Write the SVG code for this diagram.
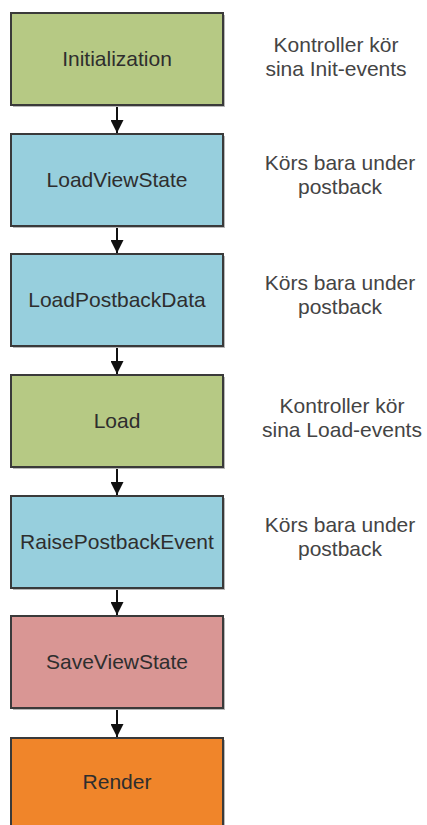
<svg xmlns="http://www.w3.org/2000/svg" width="427" height="825" viewBox="0 0 427 825">
  <style>
    .box { stroke: #3a3a3a; stroke-width: 2; }
    .shadow { fill: #b8b8b8; }
    .init { fill: #b6c984; }
    .post { fill: #97cfdd; }
    .save { fill: #d99694; }
    .render { fill: #f0852a; }
    .label { font-family: "Liberation Sans", Arial, sans-serif; font-size: 21px; fill: #2e2e2e; text-anchor: middle; }
    .note { font-family: "Liberation Sans", Arial, sans-serif; font-size: 21px; fill: #444444; text-anchor: middle; }
    .conn { stroke: #111111; stroke-width: 2; fill: none; }
  </style>
  <defs>
    <marker id="arrow" viewBox="0 0 14 14" refX="14" refY="7" markerWidth="14" markerHeight="13" markerUnits="userSpaceOnUse" orient="auto">
      <path d="M0,0 L14,7 L0,14 Z" fill="#111111"/>
    </marker>
  </defs>
  <rect width="427" height="825" fill="#ffffff"/>

  <!-- connectors between stages -->
  <g id="connectors">
    <line class="conn" x1="117" y1="106" x2="117" y2="133" marker-end="url(#arrow)"/>
    <line class="conn" x1="117" y1="227" x2="117" y2="253" marker-end="url(#arrow)"/>
    <line class="conn" x1="117" y1="347" x2="117" y2="374" marker-end="url(#arrow)"/>
    <line class="conn" x1="117" y1="468" x2="117" y2="495" marker-end="url(#arrow)"/>
    <line class="conn" x1="117" y1="589" x2="117" y2="615" marker-end="url(#arrow)"/>
    <line class="conn" x1="117" y1="709" x2="117" y2="737" marker-end="url(#arrow)"/>
  </g>

  <g id="initialization">
    <rect class="shadow" x="13" y="15" width="212" height="92"/>
    <rect class="box init" x="11" y="13" width="212" height="92"/>
    <text class="label" x="117" y="66">Initialization</text>
  </g>
  <g id="note-init">
    <text class="note" x="336" y="52">Kontroller kör</text>
    <text class="note" x="336" y="76">sina Init-events</text>
  </g>

  <g id="loadviewstate">
    <rect class="shadow" x="13" y="136" width="212" height="92"/>
    <rect class="box post" x="11" y="134" width="212" height="92"/>
    <text class="label" x="117" y="187">LoadViewState</text>
  </g>
  <g id="note-loadviewstate">
    <text class="note" x="340" y="170">Körs bara under</text>
    <text class="note" x="340" y="194">postback</text>
  </g>

  <g id="loadpostbackdata">
    <rect class="shadow" x="13" y="256" width="212" height="92"/>
    <rect class="box post" x="11" y="254" width="212" height="92"/>
    <text class="label" x="117" y="307">LoadPostbackData</text>
  </g>
  <g id="note-loadpostbackdata">
    <text class="note" x="340" y="290">Körs bara under</text>
    <text class="note" x="340" y="314">postback</text>
  </g>

  <g id="load">
    <rect class="shadow" x="13" y="377" width="212" height="92"/>
    <rect class="box init" x="11" y="375" width="212" height="92"/>
    <text class="label" x="117" y="428">Load</text>
  </g>
  <g id="note-load">
    <text class="note" x="342" y="413">Kontroller kör</text>
    <text class="note" x="342" y="437">sina Load-events</text>
  </g>

  <g id="raisepostbackevent">
    <rect class="shadow" x="13" y="498" width="212" height="92"/>
    <rect class="box post" x="11" y="496" width="212" height="92"/>
    <text class="label" x="117" y="549">RaisePostbackEvent</text>
  </g>
  <g id="note-raisepostbackevent">
    <text class="note" x="340" y="532">Körs bara under</text>
    <text class="note" x="340" y="556">postback</text>
  </g>

  <g id="saveviewstate">
    <rect class="shadow" x="13" y="618" width="212" height="92"/>
    <rect class="box save" x="11" y="616" width="212" height="92"/>
    <text class="label" x="117" y="669">SaveViewState</text>
  </g>

  <g id="render">
    <rect class="shadow" x="13" y="740" width="212" height="92"/>
    <rect class="box render" x="11" y="738" width="212" height="92"/>
    <text class="label" x="117" y="789">Render</text>
  </g>
</svg>
